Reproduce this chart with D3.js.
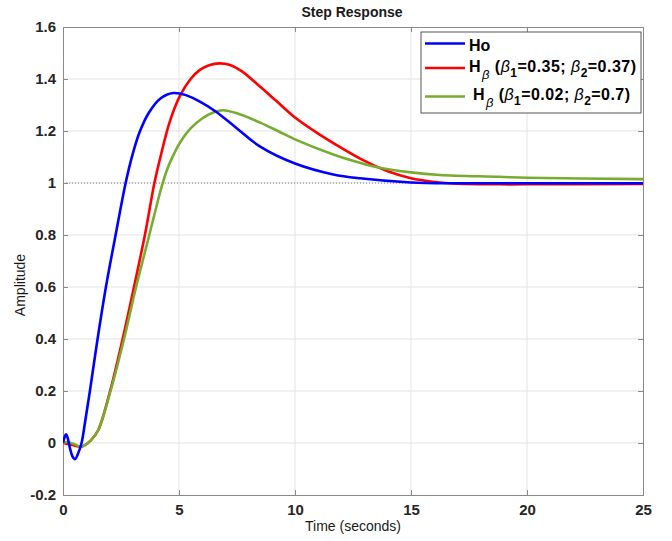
<!DOCTYPE html>
<html>
<head>
<meta charset="utf-8">
<script src="https://cdn.jsdelivr.net/npm/d3@7"></script>
<style>
  body { margin: 0; background: #fff; }
  text { font-family: "Liberation Sans", Arial, sans-serif; }
</style>
</head>
<body>
<svg id="chart" width="672" height="541"></svg>
<script>
// values
let xTicks = [0, 5, 10, 15, 20, 25]
let yTicks = [-0.2, 0, 0.2, 0.4, 0.6, 0.8, 1, 1.2, 1.4, 1.6]

let timeHo = [0, 0.06, 0.13, 0.2, 0.3, 0.4, 0.52, 0.65, 0.8, 0.95, 1.16, 1.49, 1.85, 2.31, 2.7, 3.0, 3.3, 3.7, 4.2, 4.75, 5.3, 5.9, 6.55, 7.5, 8.5, 10, 11.65, 12.8, 15, 17, 20, 25]
let ampHo = [0, 0.02, 0.033, 0.02, -0.02, -0.05, -0.062, -0.04, 0, 0.08, 0.2, 0.4, 0.6, 0.82, 1.0, 1.11, 1.195, 1.27, 1.325, 1.346, 1.338, 1.313, 1.277, 1.21, 1.14, 1.075, 1.033, 1.018, 1.002, 0.999, 0.999, 0.999]

let timeH1 = [0, 0.4, 0.8, 1.2, 1.52, 2.03, 2.57, 3.06, 3.53, 3.94, 4.2, 4.6, 5.04, 5.5, 5.9, 6.3, 6.74, 7.2, 7.7, 8.5, 9.2, 10, 11, 12, 13, 14, 15, 16, 17, 18.8, 20, 25]
let ampH1 = [0, -0.008, -0.014, 0.01, 0.05, 0.2, 0.4, 0.6, 0.8, 1.0, 1.1, 1.235, 1.335, 1.4, 1.435, 1.453, 1.46, 1.454, 1.43, 1.37, 1.315, 1.252, 1.19, 1.135, 1.085, 1.045, 1.018, 1.004, 0.997, 0.995, 0.995, 0.996]

let timeH2 = [0, 0.2, 0.5, 0.8, 1.2, 1.52, 2.05, 2.63, 3.15, 3.72, 4.0, 4.25, 4.5, 4.8, 5.04, 5.5, 6.0, 6.5, 6.9, 7.5, 8.5, 9.3, 10, 11.65, 12.8, 13.6, 15, 16.25, 18.8, 20, 25]
let ampH2 = [0, 0.004, -0.005, -0.014, 0.01, 0.05, 0.2, 0.4, 0.6, 0.8, 0.9, 0.985, 1.055, 1.115, 1.155, 1.21, 1.248, 1.272, 1.28, 1.268, 1.232, 1.198, 1.168, 1.11, 1.078, 1.06, 1.041, 1.031, 1.024, 1.02, 1.015]

let seriesColors = ["#0000ff", "#ff0000", "#77ac30"]

let svg = d3.select("#chart")
let pL = 63, pR = 643, pT = 27, pB = 495

let x = d3.scaleLinear().domain([0, 25]).range([pL, pR])
let y = d3.scaleLinear().domain([-0.2, 1.6]).range([pB, pT])

svg.append("rect")
  .attr("x", 0).attr("y", 0)
  .attr("width", 672).attr("height", 541)
  .style("fill", "#fff")

// grid
svg.append("g")
  .selectAll("line")
  .data(xTicks.slice(1, -1))
  .join("line")
  .attr("x1", d => x(d)).attr("x2", d => x(d))
  .attr("y1", pT).attr("y2", pB)
  .style("stroke", "#e3e3e3")
  .style("stroke-width", 1)

svg.append("g")
  .selectAll("line")
  .data(yTicks.slice(1, -1))
  .join("line")
  .attr("x1", pL).attr("x2", pR)
  .attr("y1", d => y(d)).attr("y2", d => y(d))
  .style("stroke", "#e3e3e3")
  .style("stroke-width", 1)

// steady state line
svg.append("line")
  .attr("x1", pL).attr("x2", pR)
  .attr("y1", y(1)).attr("y2", y(1))
  .style("stroke", "#808080")
  .style("stroke-width", 1)
  .style("stroke-dasharray", "1,2")

// axes
svg.append("g")
  .attr("transform", "translate(0," + pB + ")")
  .call(d3.axisBottom(x).tickValues(xTicks).tickSize(-5).tickPadding(9).tickFormat(d3.format("d")))
svg.append("g")
  .attr("transform", "translate(" + pL + ",0)")
  .call(d3.axisLeft(y).tickValues(yTicks).tickSize(-5).tickPadding(7).tickFormat(d => String(+d.toFixed(1))))

svg.append("g")
  .attr("transform", "translate(0," + pT + ")")
  .call(d3.axisTop(x).tickValues(xTicks).tickSize(-5).tickFormat(""))
svg.append("g")
  .attr("transform", "translate(" + pR + ",0)")
  .call(d3.axisRight(y).tickValues(yTicks).tickSize(-5).tickFormat(""))

svg.selectAll(".domain").style("stroke", "#8a8a8a")
svg.selectAll(".tick line").style("stroke", "#8a8a8a")
svg.selectAll(".tick text")
  .style("font-size", "15px")
  .style("font-weight", "bold")
  .style("fill", "#262626")
  .style("font-family", "Liberation Sans, Arial, sans-serif")

// clip
svg.append("clipPath").attr("id", "clip")
  .append("rect")
  .attr("x", pL).attr("y", pT)
  .attr("width", pR - pL).attr("height", pB - pT)

let line = d3.line()
  .x(d => x(d[0]))
  .y(d => y(d[1]))
  .curve(d3.curveCatmullRom.alpha(0.5))

let series = [
  d3.zip(timeHo, ampHo),
  d3.zip(timeH1, ampH1),
  d3.zip(timeH2, ampH2)
]

let order = [1, 2, 0]
order.forEach(i => {
  svg.append("path")
    .datum(series[i])
    .attr("d", line)
    .attr("clip-path", "url(#clip)")
    .style("fill", "none")
    .style("stroke", seriesColors[i])
    .style("stroke-width", 2.6)
    .style("stroke-linejoin", "round")
})

// labels
svg.append("text")
  .attr("x", 352).attr("y", 17)
  .attr("text-anchor", "middle")
  .style("font-size", "14px")
  .style("font-weight", "bold")
  .style("fill", "#1a1a1a")
  .text("Step Response")

svg.append("text")
  .attr("x", 353).attr("y", 531)
  .attr("text-anchor", "middle")
  .style("font-size", "14px")
  .style("fill", "#1a1a1a")
  .text("Time (seconds)")

svg.append("text")
  .attr("transform", "translate(25,285) rotate(-90)")
  .attr("text-anchor", "middle")
  .style("font-size", "14px")
  .style("fill", "#1a1a1a")
  .text("Amplitude")

// legend
let lg = svg.append("g")
lg.append("rect")
  .attr("x", 421).attr("y", 32)
  .attr("width", 220).attr("height", 81)
  .style("fill", "#fff")
  .style("stroke", "#555")
  .style("stroke-width", 1)

let rows = [43.5, 68, 96.5]
let baselines = [51, 72, 99.5]
rows.forEach((ry, i) => {
  lg.append("line")
    .attr("x1", 425).attr("x2", 465)
    .attr("y1", ry).attr("y2", ry)
    .style("stroke", seriesColors[i])
    .style("stroke-width", 2.6)
})

let fs = "16px"
lg.append("text")
  .attr("x", 469).attr("y", baselines[0])
  .style("font-size", fs).style("font-weight", "bold")
  .text("Ho")

function legendEntry(tx, ty, len, b1, b2) {
  let t = lg.append("text")
    .attr("x", tx).attr("y", ty)
    .attr("textLength", len)
    .attr("lengthAdjust", "spacing")
    .style("font-size", fs).style("font-weight", "bold")
  t.append("tspan").text("H")
  t.append("tspan").attr("dy", 7).attr("dx", 1).style("font-style", "italic").style("font-weight", "normal").style("font-size", "13px").text("\u03B2")
  t.append("tspan").attr("dy", -7).text(" (")
  t.append("tspan").style("font-style", "italic").style("font-weight", "normal").text("\u03B2")
  t.append("tspan").attr("dy", 5).style("font-size", "12px").text("1")
  t.append("tspan").attr("dy", -5).text("=" + b1 + "; ")
  t.append("tspan").style("font-style", "italic").style("font-weight", "normal").text("\u03B2")
  t.append("tspan").attr("dy", 5).style("font-size", "12px").text("2")
  t.append("tspan").attr("dy", -5).text("=" + b2 + ")")
}
legendEntry(469, baselines[1], 167, "0.35", "0.37")
legendEntry(473, baselines[2], 157, "0.02", "0.7")
</script>
</body>
</html>
